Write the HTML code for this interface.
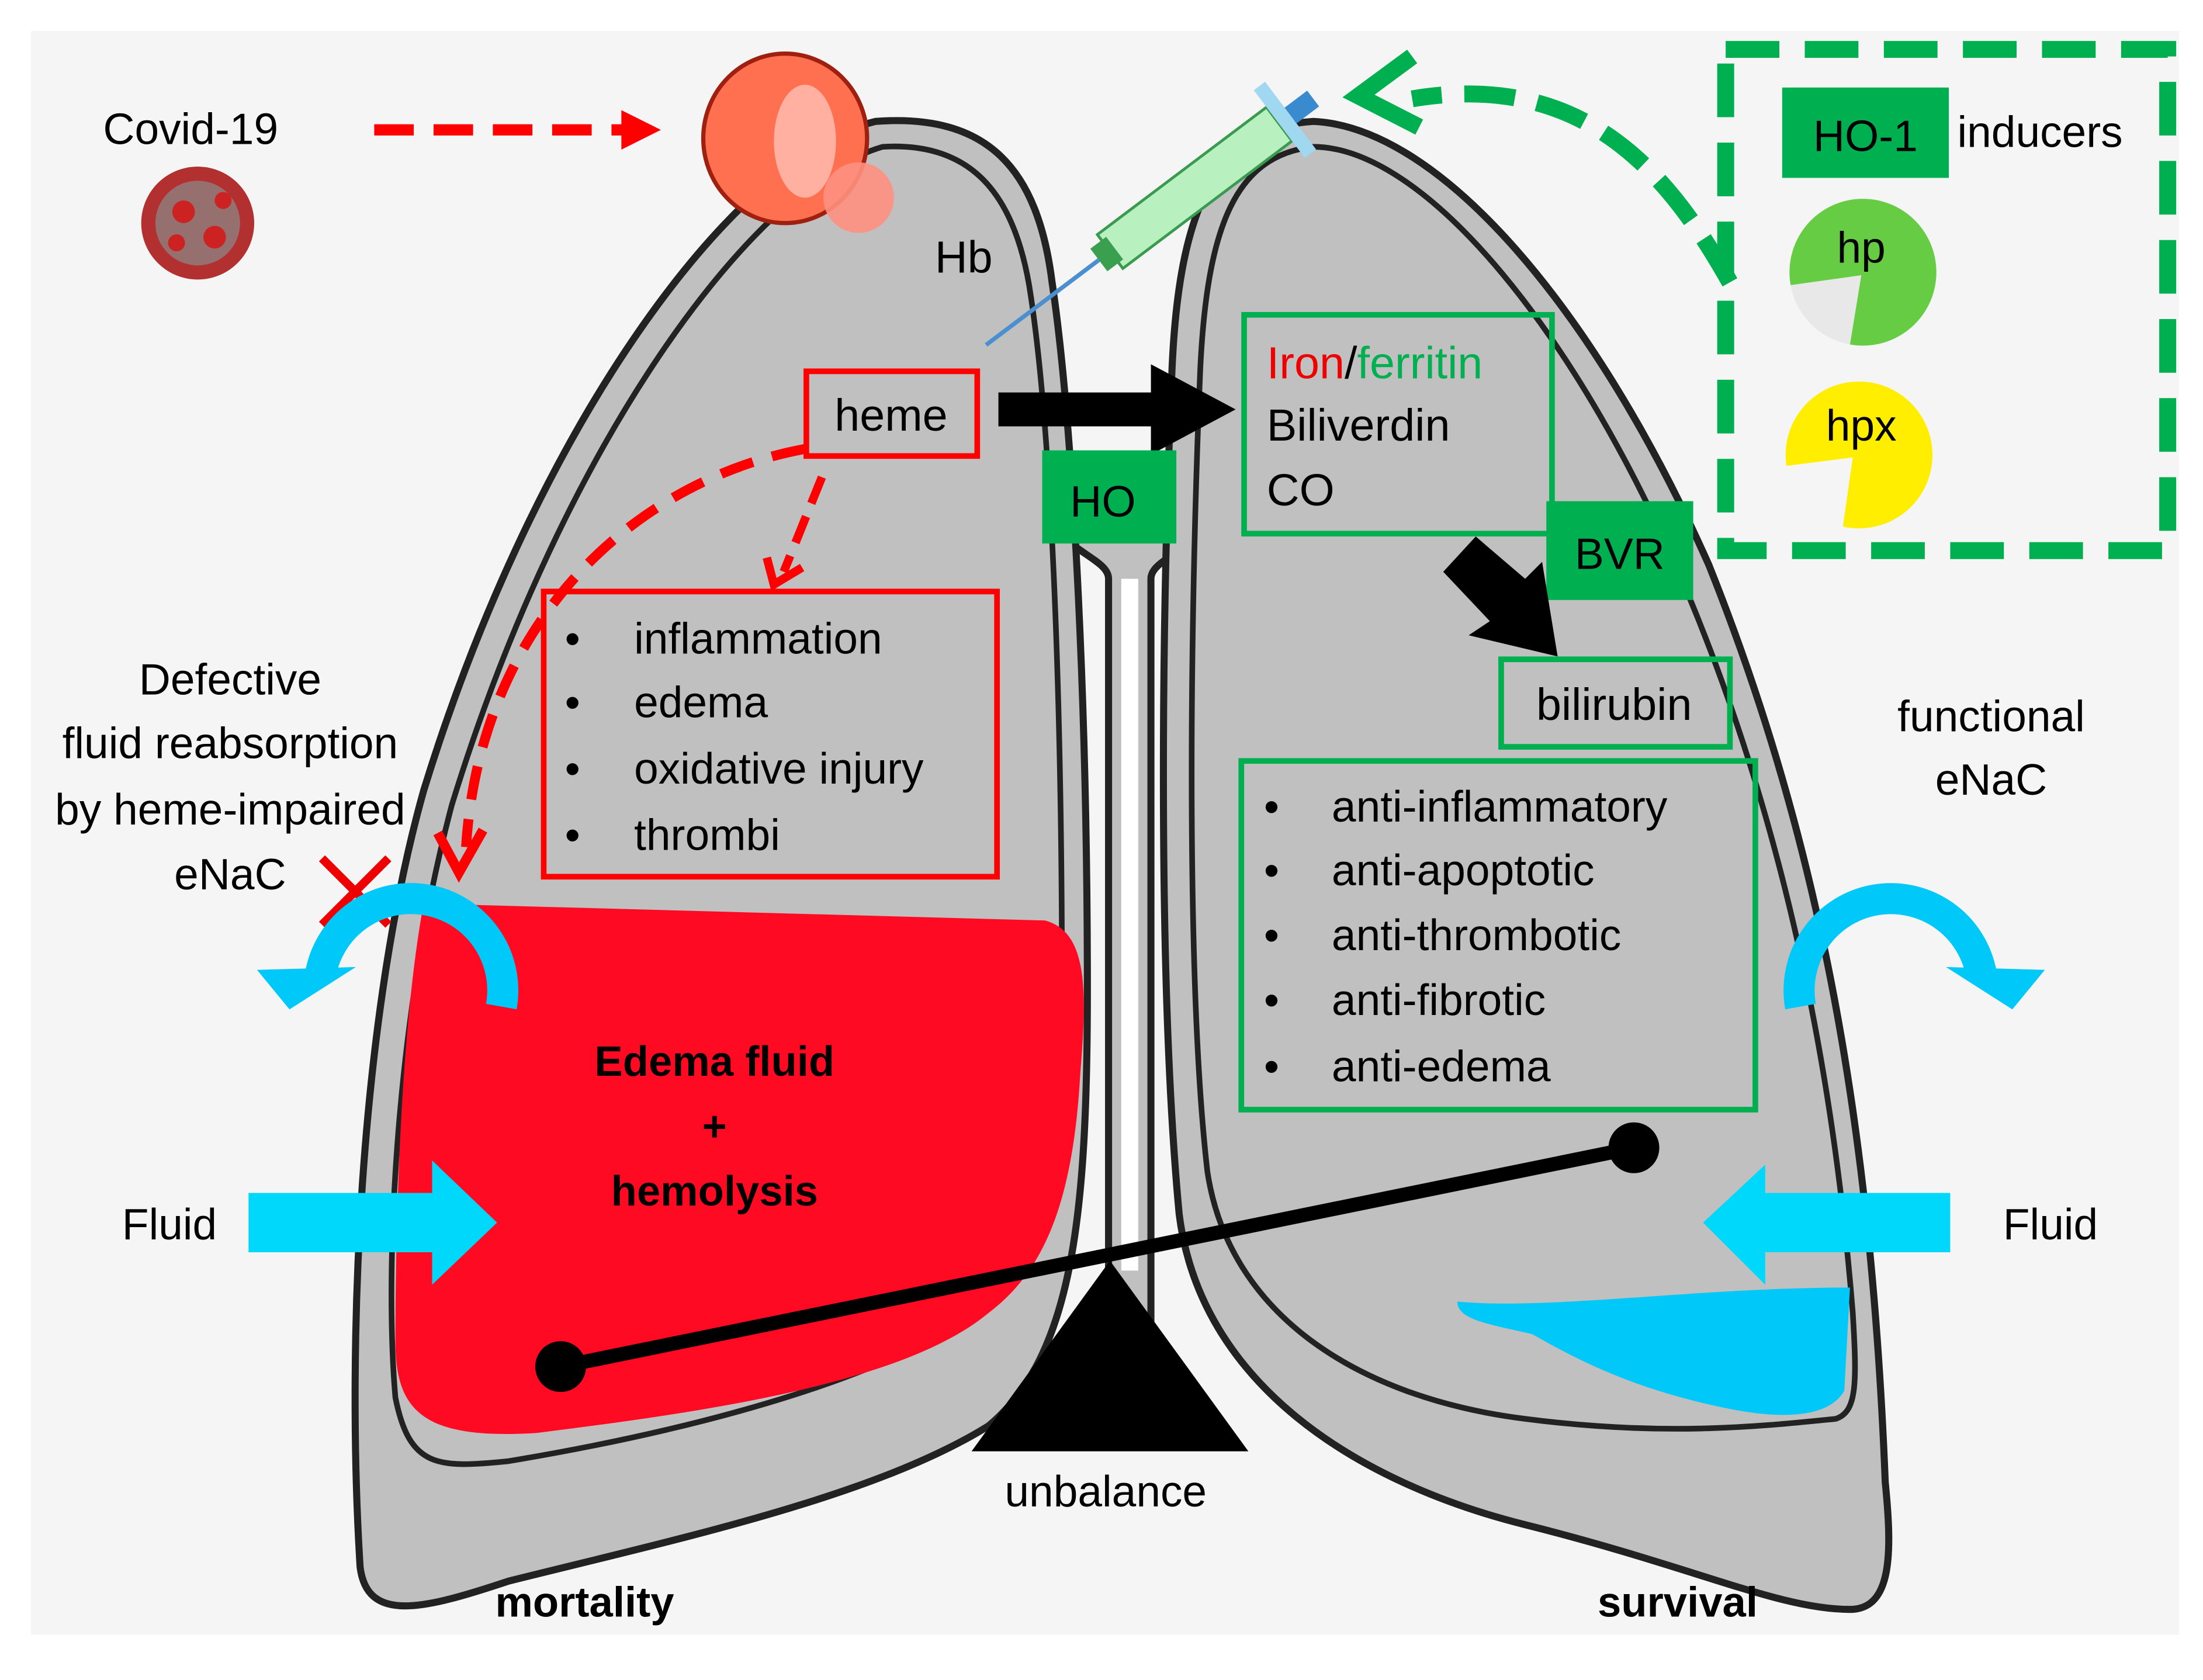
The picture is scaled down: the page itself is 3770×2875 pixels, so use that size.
<!DOCTYPE html>
<html><head><meta charset="utf-8"><style>
html,body{margin:0;padding:0;background:#fff}
svg{display:block}
text{font-family:"Liberation Sans",sans-serif}
</style></head><body>
<svg width="3770" height="2875" viewBox="0 0 1560 1190" preserveAspectRatio="none" xmlns="http://www.w3.org/2000/svg">
<rect x="0" y="0" width="1560" height="1190" fill="#fff"/>
<rect x="22" y="22" width="1521" height="1136" fill="#f5f5f5"/>
<!-- trachea -->
<path d="M752,380 C770,395 785,400 785,410 L785,1000 L815,1000 L815,410 C815,400 830,395 848,380" fill="#c0c0c0" stroke="#222" stroke-width="5"/>
<path d="M800,410 L800,900" stroke="#fff" stroke-width="12"/>
<!-- left lung -->
<path d="M620,86 C520,110 380,300 300,560 C255,720 245,950 255,1110 C260,1150 300,1140 360,1120 C480,1090 620,1060 700,1010 C760,960 770,860 770,700 C770,500 760,300 745,200 C735,120 700,80 620,86 Z" fill="#c0c0c0" stroke="#222" stroke-width="5"/>
<path d="M625,104 C535,130 400,310 320,570 C280,720 272,900 280,990 C290,1040 310,1040 360,1035 C480,1015 620,980 690,930 C745,880 752,800 752,700 C752,500 745,310 730,210 C720,140 690,100 625,104 Z" fill="none" stroke="#222" stroke-width="4"/>
<!-- right lung -->
<path d="M930,86 C860,90 835,150 830,260 C822,450 820,700 835,860 C850,980 960,1050 1080,1080 C1200,1110 1260,1140 1310,1140 C1340,1140 1340,1100 1335,1050 C1325,800 1290,600 1210,400 C1130,220 1020,90 930,86 Z" fill="#c0c0c0" stroke="#222" stroke-width="5"/>
<path d="M930,104 C875,110 855,160 850,260 C842,450 840,700 855,830 C870,930 960,990 1080,1005 C1180,1018 1250,1010 1300,1005 C1315,1000 1315,980 1312,930 C1300,780 1270,600 1195,420 C1120,240 1010,104 930,104 Z" fill="none" stroke="#222" stroke-width="4"/>
<!-- red edema -->
<path d="M300,640 L740,652 C770,660 770,700 765,760 C760,850 740,900 700,930 C640,980 500,1000 380,1015 C300,1020 280,1000 280,950 C280,850 285,720 300,640 Z" fill="#ff0a22"/>
<!-- blue water -->
<path d="M1032,922 C1100,928 1200,912 1310,912 L1306,985 C1295,1005 1260,1005 1225,998 C1160,985 1120,965 1085,945 C1055,938 1032,935 1032,922 Z" fill="#00c8f8"/>
<!-- Covid -->
<text x="135" y="102" font-size="31" text-anchor="middle" fill="#000">Covid-19</text>
<circle cx="140" cy="158" r="40" fill="#b23030"/>
<circle cx="140" cy="158" r="30" fill="#8a8a8a" opacity="0.7"/>
<circle cx="130" cy="150" r="8" fill="#c22"/><circle cx="152" cy="168" r="8" fill="#c22"/><circle cx="125" cy="172" r="6" fill="#c22"/><circle cx="158" cy="142" r="6" fill="#c22"/>
<path d="M265,92 L445,92" stroke="#f00" stroke-width="8" stroke-dasharray="28,14"/>
<polygon points="440,78 468,92 440,106" fill="#f00"/>
<!-- RBC -->
<ellipse cx="556" cy="98" rx="58" ry="60" fill="#ff7050" stroke="#a02010" stroke-width="3"/>
<ellipse cx="570" cy="100" rx="22" ry="40" fill="#ffb0a0"/>
<circle cx="608" cy="140" r="25" fill="#ff9080" opacity="0.9"/>
<text x="662" y="193" font-size="32">Hb</text>
<!-- syringe -->
<g transform="rotate(-37 850 130)">
<rect x="770" y="115" width="150" height="30" fill="#b8f0c0" stroke="#3a9a50" stroke-width="2"/>
<rect x="760" y="120" width="14" height="20" fill="#3aa050"/>
<rect x="920" y="100" width="10" height="60" fill="#9fd8f0"/>
<rect x="930" y="123" width="20" height="14" fill="#3a8ad0"/>
<line x1="760" y1="130" x2="660" y2="130" stroke="#4a90d0" stroke-width="3"/>
</g>
<!-- heme -->
<rect x="571" y="263" width="121" height="60" fill="none" stroke="#f00" stroke-width="4"/>
<text x="631" y="305" font-size="32" text-anchor="middle">heme</text>
<path d="M570,318 C450,340 340,440 330,600" fill="none" stroke="#f00" stroke-width="7" stroke-dasharray="24,14"/>
<polyline points="310,590 325,618 342,588" fill="none" stroke="#f00" stroke-width="7"/>
<path d="M582,338 L555,405" stroke="#f00" stroke-width="6" stroke-dasharray="20,10"/>
<polyline points="543,395 548,414 568,402" fill="none" stroke="#f00" stroke-width="6"/>
<rect x="385" y="419" width="321" height="202" fill="none" stroke="#f00" stroke-width="4"/>
<g font-size="31">
<text x="400" y="463">•</text><text x="449" y="463">inflammation</text>
<text x="400" y="508">•</text><text x="449" y="508">edema</text>
<text x="400" y="555">•</text><text x="449" y="555">oxidative injury</text>
<text x="400" y="602">•</text><text x="449" y="602">thrombi</text>
</g>
<!-- HO arrow -->
<polygon points="707,278 815,278 815,258 875,290 815,322 815,302 707,302" fill="#000"/>
<rect x="738" y="319" width="95" height="66" fill="#00b050"/>
<text x="781" y="366" font-size="31" text-anchor="middle">HO</text>
<rect x="881" y="223" width="218" height="155" fill="none" stroke="#00b050" stroke-width="4"/>
<text x="897" y="268" font-size="32"><tspan fill="#e00">Iron</tspan><tspan fill="#000">/</tspan><tspan fill="#00b050">ferritin</tspan></text>
<text x="897" y="312" font-size="32">Biliverdin</text>
<text x="897" y="358" font-size="32">CO</text>
<rect x="1095" y="355" width="104" height="70" fill="#00b050"/>
<text x="1147" y="403" font-size="31" text-anchor="middle">BVR</text>
<polygon points="1045,380 1080,410 1092,398 1103,465 1040,450 1055,440 1022,405" fill="#000"/>
<rect x="1063" y="467" width="162" height="62" fill="none" stroke="#00b050" stroke-width="4"/>
<text x="1143" y="510" font-size="32" text-anchor="middle">bilirubin</text>
<rect x="879" y="539" width="364" height="247" fill="none" stroke="#00b050" stroke-width="4"/>
<g font-size="31">
<text x="895" y="582">•</text><text x="943" y="582">anti-inflammatory</text>
<text x="895" y="627">•</text><text x="943" y="627">anti-apoptotic</text>
<text x="895" y="673">•</text><text x="943" y="673">anti-thrombotic</text>
<text x="895" y="719">•</text><text x="943" y="719">anti-fibrotic</text>
<text x="895" y="766">•</text><text x="943" y="766">anti-edema</text>
</g>
<!-- dashed green box -->
<rect x="1222" y="35" width="313" height="355" fill="none" stroke="#00b050" stroke-width="12" stroke-dasharray="38,18"/>
<rect x="1262" y="62" width="118" height="64" fill="#00b050"/>
<text x="1321" y="107" font-size="31" text-anchor="middle">HO-1</text>
<text x="1386" y="104" font-size="31">inducers</text>
<path d="M1318,195 L1268,202 A52,52 0 1 1 1310,244 Z" fill="#66cc44"/>
<path d="M1318,195 L1268,202 A52,52 0 0 0 1310,244 Z" fill="#e8e8e8"/>
<text x="1318" y="186" font-size="31" text-anchor="middle">hp</text>
<path d="M1312,324 L1265,330 A52,52 0 1 1 1305,373 Z" fill="#ffee00"/>
<text x="1318" y="312" font-size="31" text-anchor="middle">hpx</text>
<path d="M1225,200 C1180,120 1120,50 1000,70" fill="none" stroke="#00b050" stroke-width="12" stroke-dasharray="36,16"/>
<polyline points="1000,40 962,68 1005,90" fill="none" stroke="#00b050" stroke-width="12"/>
<!-- left text -->
<g font-size="31" text-anchor="middle">
<text x="163" y="492">Defective</text>
<text x="163" y="537">fluid reabsorption</text>
<text x="163" y="584">by heme-impaired</text>
<text x="163" y="630">eNaC</text>
<text x="1410" y="518">functional</text>
<text x="1410" y="563">eNaC</text>
</g>
<path d="M228,608 L275,655 M275,608 L228,655" stroke="#e00" stroke-width="6"/>
<!-- blue curved arrows -->
<path d="M355,713 A64,64 0 0 0 227,690" fill="none" stroke="#00c8f8" stroke-width="22"/>
<polygon points="182,687 252,685 205,715" fill="#00c8f8"/>
<path d="M1275,713 A64,64 0 0 1 1403,690" fill="none" stroke="#00c8f8" stroke-width="22"/>
<polygon points="1448,687 1378,685 1425,715" fill="#00c8f8"/>
<!-- Fluid arrows -->
<text x="120" y="878" font-size="31" text-anchor="middle">Fluid</text>
<polygon points="176,845 306,845 306,822 352,866 306,910 306,887 176,887" fill="#00d8fb"/>
<text x="1452" y="878" font-size="31" text-anchor="middle">Fluid</text>
<polygon points="1381,845 1250,845 1250,825 1206,866 1250,910 1250,887 1381,887" fill="#00d8fb"/>
<!-- edema text -->
<g font-size="30" font-weight="bold" text-anchor="middle">
<text x="506" y="762">Edema fluid</text>
<text x="506" y="808">+</text>
<text x="506" y="854">hemolysis</text>
</g>
<!-- balance -->
<line x1="397" y1="968" x2="1157" y2="813" stroke="#000" stroke-width="10"/>
<circle cx="397" cy="968" r="18" fill="#000"/>
<circle cx="1157" cy="813" r="18" fill="#000"/>
<polygon points="786,893 688,1028 884,1028" fill="#000"/>
<text x="783" y="1067" font-size="31" text-anchor="middle">unbalance</text>
<text x="414" y="1145" font-size="30" font-weight="bold" text-anchor="middle">mortality</text>
<text x="1188" y="1145" font-size="30" font-weight="bold" text-anchor="middle">survival</text>
</svg>
</body></html>
